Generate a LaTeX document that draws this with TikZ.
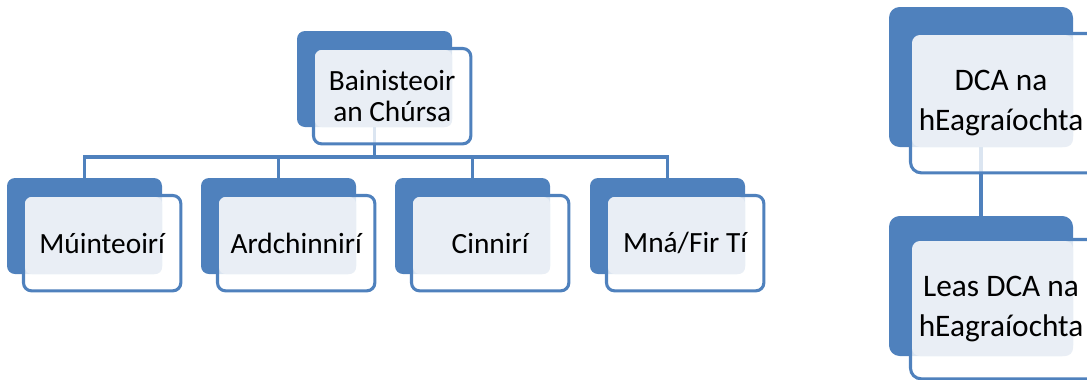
\documentclass[tikz,border=0pt]{standalone}
\usepackage{fontspec}
\setmainfont{Carlito}
\usetikzlibrary{positioning,backgrounds}
\definecolor{orgblue}{HTML}{4F81BD}
\definecolor{orglight}{HTML}{E9EEF5}

\begin{document}
\begin{tikzpicture}[x=0.75pt,y=-0.75pt,
  backbox/.style={rectangle,rounded corners=6pt,fill=orgblue,inner sep=0pt,outer sep=0pt,anchor=north west,minimum width=116.25pt,minimum height=72pt},
  frontbox/.style={rectangle,rounded corners=6pt,draw=orgblue,line width=2.3pt,fill=white,fill opacity=0.8,inner sep=0pt,outer sep=0pt,anchor=north west,minimum width=118pt,minimum height=71.5pt},
  bigback/.style={backbox,rounded corners=8pt,minimum width=138pt,minimum height=105pt},
  bigfront/.style={frontbox,rounded corners=8pt,minimum width=145pt,minimum height=104.5pt},
  unittext/.style={align=center,text=black,font=\fontsize{22}{23.25}\selectfont},
  bigtext/.style={align=center,text=black,font=\fontsize{23.5}{30}\selectfont},
  orglink/.style={draw=orgblue,line width=2.3pt}]
\useasboundingbox (0,0) rectangle (1087,379);

% manager
\node[backbox] (bainB) at (297,31) {};
\node[frontbox] (bainW) at ([shift={(16.5,17.5)}]bainB.north west) {};
\fill[orglight,rounded corners=5pt] ([shift={(1.5,1.5)}]bainW.north west) rectangle (bainB.south east);
\node[unittext] (bain) at (bainW.center) {Bainisteoir\\an Chúrsa};

% staff row
\node[backbox] (muinB) at (7,178) {};
\node[frontbox] (muinW) at ([shift={(16.5,17.5)}]muinB.north west) {};
\fill[orglight,rounded corners=5pt] ([shift={(1.5,1.5)}]muinW.north west) rectangle (muinB.south east);
\node[unittext] (muin) at (muinW.center) {Múinteoirí};

\node[backbox] (ardB) at (201,178) {};
\node[frontbox] (ardW) at ([shift={(16.5,17.5)}]ardB.north west) {};
\fill[orglight,rounded corners=5pt] ([shift={(1.5,1.5)}]ardW.north west) rectangle (ardB.south east);
\node[unittext] (ard) at (ardW.center) {Ardchinnirí};

\node[backbox] (cinnB) at (395,178) {};
\node[frontbox] (cinnW) at ([shift={(16.5,17.5)}]cinnB.north west) {};
\fill[orglight,rounded corners=5pt] ([shift={(1.5,1.5)}]cinnW.north west) rectangle (cinnB.south east);
\node[unittext] (cinn) at (cinnW.center) {Cinnirí};

\node[backbox] (mnaB) at (590,178) {};
\node[frontbox] (mnaW) at ([shift={(16.5,17.5)}]mnaB.north west) {};
\fill[orglight,rounded corners=5pt] ([shift={(1.5,1.5)}]mnaW.north west) rectangle (mnaB.south east);
\node[unittext] (mna) at (mnaW.center) {Mná/Fir Tí};

% right-hand chart
\node[bigback] (dcaB) at (889,7) {};
\node[bigfront] (dcaW) at ([shift={(21.5,26.5)}]dcaB.north west) {};
\fill[orglight,rounded corners=6pt] ([shift={(1.5,1.5)}]dcaW.north west) rectangle (dcaB.south east);
\node[bigtext] (dca) at ([xshift=67.9pt]dcaW.west) {DCA na\\hEagraíochta};

\node[bigback] (leasB) at (889,216) {};
\node[bigfront] (leasW) at ([shift={(21.5,23.5)}]leasB.north west) {};
\fill[orglight,rounded corners=6pt] ([shift={(1.5,1.5)}]leasW.north west) rectangle (leasB.south east);
\node[bigtext] (leas) at ([xshift=67.9pt]leasW.west) {Leas DCA na\\hEagraíochta};

\coordinate (bus) at ([yshift=-22.5pt]bainB.south);

\begin{scope}[on background layer]
\draw[orglink] (bainB.south) -- (bus);
\draw[orglink] (bus) -| (muinB.north);
\draw[orglink] (bus) -| (ardB.north);
\draw[orglink] (bus) -| (cinnB.north);
\draw[orglink] (bus) -| (mnaB.north);
\draw[orglink] (dcaB.south) -- (leasB.north);
\end{scope}
\end{tikzpicture}
\end{document}
